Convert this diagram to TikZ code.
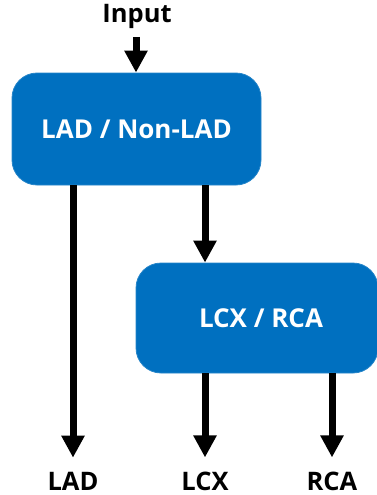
\documentclass[tikz,border=0pt]{standalone}
\usepackage{fontspec}
\setmainfont{Open Sans}
\usetikzlibrary{arrows.meta}
\definecolor{boxblue}{HTML}{0070C0}
\tikzset{
  blk/.style={draw=boxblue!85!white, line width=0.8pt, fill=boxblue, rounded corners=25pt,
    text=white, font=\fontsize{26}{30}\selectfont\bfseries, inner sep=0pt},
  lbl/.style={font=\fontsize{25.5}{30}\selectfont\bfseries, text=black, inner sep=0pt},
  flow/.style={line width=7pt, -{Triangle[width=22pt,length=22pt]}}
}
\begin{document}
\begin{tikzpicture}[x=1pt,y=-1pt]
\useasboundingbox (0,0) rectangle (376,495);
\node[lbl] (input) at (137,16) {Input};
\node[blk, minimum width=249pt, minimum height=112pt] (b1) at (136.5,129) {LAD / Non-LAD};
\node[blk, minimum width=242pt, minimum height=110pt] (b2) at (257,318) {\hspace*{8pt}LCX / RCA};
\node[lbl] (lad) at (73,481) {LAD};
\node[lbl] (lcx) at (205,481) {LCX};
\node[lbl] (rca) at (332,481) {RCA};
\coordinate (ia) at (136,37);
\draw[flow] (ia) -- (b1.north -| ia);
\draw[flow] (b1.south -| lad) -- ([yshift=14pt]lad.north);
\draw[flow] (b1.south -| lcx) -- (b2.north -| lcx);
\draw[flow] (b2.south -| lcx) -- ([yshift=14pt]lcx.north);
\draw[flow] (b2.south -| rca) -- ([yshift=14pt]rca.north);
\end{tikzpicture}
\end{document}
